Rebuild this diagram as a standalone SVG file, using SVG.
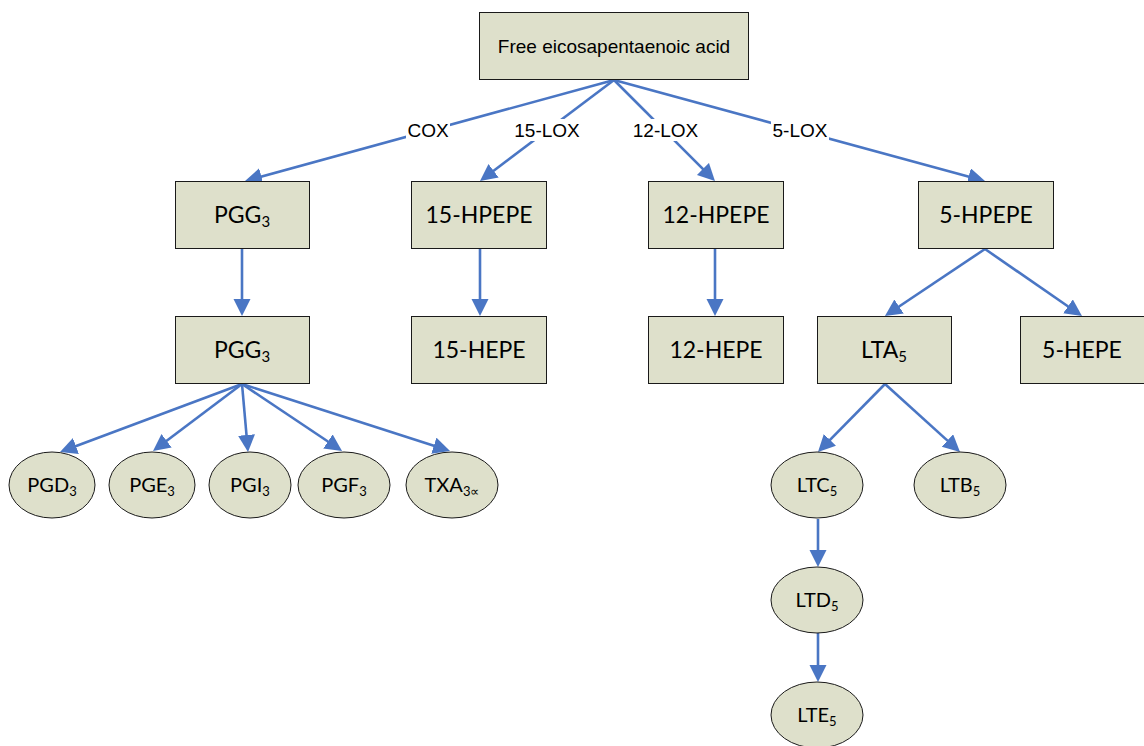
<svg xmlns="http://www.w3.org/2000/svg" width="1144" height="746" viewBox="0 0 1144 746">
<style>
.box{fill:#dee0cb;stroke:#1a1a1a;stroke-width:1}
.t{font-family:Lato,"Noto Sans",sans-serif;font-size:23px;fill:#000;text-anchor:middle}
.te{font-family:Lato,"Noto Sans",sans-serif;font-size:20px;fill:#000;text-anchor:middle}
.a{font-family:"Liberation Sans",Arial,sans-serif;font-size:19px;fill:#000;text-anchor:middle}
.c{stroke:#4a76c4;stroke-width:2.6;fill:none;marker-end:url(#ah)}
.sub{font-size:65%}
</style>
<defs>
<marker id="ah" markerUnits="userSpaceOnUse" markerWidth="18" markerHeight="18" refX="9" refY="8.5" orient="auto">
<path d="M0,0 L17,8.5 L0,17 z" fill="#4a76c4"/>
</marker>
</defs>
<g id="connectors">
<line class="c" x1="614" y1="80" x2="252.7" y2="178.9"/>
<line class="c" x1="614" y1="80" x2="486.4" y2="176.2"/>
<line class="c" x1="614" y1="80" x2="709.3" y2="175.3"/>
<line class="c" x1="614" y1="80" x2="977.3" y2="178.9"/>
<line class="c" x1="242" y1="249" x2="242" y2="308"/>
<line class="c" x1="480" y1="249" x2="480" y2="308"/>
<line class="c" x1="715" y1="249" x2="715" y2="308"/>
<line class="c" x1="985" y1="249" x2="891.6" y2="311.5"/>
<line class="c" x1="985" y1="249" x2="1075.4" y2="311.5"/>
<line class="c" x1="242" y1="384" x2="67.5" y2="449.2"/>
<line class="c" x1="242" y1="384" x2="159.4" y2="446.2"/>
<line class="c" x1="242" y1="384" x2="247.3" y2="444"/>
<line class="c" x1="242" y1="384" x2="335.4" y2="446.5"/>
<line class="c" x1="242" y1="384" x2="442.4" y2="448.5"/>
<line class="c" x1="885" y1="384" x2="823.6" y2="446.3"/>
<line class="c" x1="885" y1="384" x2="954.1" y2="446.6"/>
<line class="c" x1="818" y1="519" x2="818" y2="559"/>
<line class="c" x1="818" y1="633" x2="818" y2="674"/>
<g id="edge-labels">
<rect x="406" y="119" width="44" height="22" fill="#fff"/>
<text class="a" x="428" y="137">COX</text>
<rect x="513" y="119" width="68" height="22" fill="#fff"/>
<text class="a" x="547" y="137">15-LOX</text>
<rect x="632" y="119" width="67" height="22" fill="#fff"/>
<text class="a" x="665.5" y="137">12-LOX</text>
<rect x="771" y="119" width="58" height="22" fill="#fff"/>
<text class="a" x="800" y="137">5-LOX</text>
</g>
</g>
<g id="n-epa"><rect class="box" x="479.5" y="12.5" width="269" height="67"/><text class="a" x="614" y="53">Free eicosapentaenoic acid</text></g>
<g id="n-pgg3a"><rect class="box" x="175.5" y="181.5" width="134" height="67"/><text class="t" x="242" y="223">PGG<tspan class="sub" dy="4">3</tspan></text></g>
<g id="n-15hpepe"><rect class="box" x="411.5" y="181.5" width="135" height="67"/><text class="t" x="479" y="223">15-HPEPE</text></g>
<g id="n-12hpepe"><rect class="box" x="648.5" y="181.5" width="135" height="67"/><text class="t" x="716" y="223">12-HPEPE</text></g>
<g id="n-5hpepe"><rect class="box" x="918.5" y="181.5" width="135" height="67"/><text class="t" x="986" y="223">5-HPEPE</text></g>
<g id="n-pgg3b"><rect class="box" x="175.5" y="316.5" width="134" height="67"/><text class="t" x="242" y="358">PGG<tspan class="sub" dy="4">3</tspan></text></g>
<g id="n-15hepe"><rect class="box" x="411.5" y="316.5" width="135" height="67"/><text class="t" x="479" y="358">15-HEPE</text></g>
<g id="n-12hepe"><rect class="box" x="648.5" y="316.5" width="135" height="67"/><text class="t" x="716" y="358">12-HEPE</text></g>
<g id="n-lta5"><rect class="box" x="817.5" y="316.5" width="134" height="67"/><text class="t" x="884" y="358">LTA<tspan class="sub" dy="4">5</tspan></text></g>
<g id="n-5hepe"><rect class="box" x="1020.5" y="316.5" width="135" height="67"/><text class="t" x="1082" y="358">5-HEPE</text></g>
<g id="n-pgd3"><ellipse class="box" cx="52" cy="485" rx="43" ry="33"/><text class="te" x="52" y="492">PGD<tspan class="sub" dy="4">3</tspan></text></g>
<g id="n-pge3"><ellipse class="box" cx="152" cy="485" rx="43" ry="33"/><text class="te" x="152" y="492">PGE<tspan class="sub" dy="4">3</tspan></text></g>
<g id="n-pgi3"><ellipse class="box" cx="250" cy="485" rx="41" ry="33"/><text class="te" x="250" y="492">PGI<tspan class="sub" dy="4">3</tspan></text></g>
<g id="n-pgf3"><ellipse class="box" cx="344" cy="485" rx="46" ry="33"/><text class="te" x="344" y="492">PGF<tspan class="sub" dy="4">3</tspan></text></g>
<g id="n-txa3"><ellipse class="box" cx="452" cy="485" rx="46" ry="33"/><text class="te" x="452" y="492">TXA<tspan class="sub" dy="4">3∝</tspan></text></g>
<g id="n-ltc5"><ellipse class="box" cx="817" cy="485" rx="46" ry="33"/><text class="te" x="817" y="492">LTC<tspan class="sub" dy="4">5</tspan></text></g>
<g id="n-ltb5"><ellipse class="box" cx="960" cy="485" rx="46" ry="33"/><text class="te" x="960" y="492">LTB<tspan class="sub" dy="4">5</tspan></text></g>
<g id="n-ltd5"><ellipse class="box" cx="817" cy="600" rx="46" ry="33"/><text class="te" x="817" y="607">LTD<tspan class="sub" dy="4">5</tspan></text></g>
<g id="n-lte5"><ellipse class="box" cx="817" cy="715" rx="46" ry="33"/><text class="te" x="817" y="722">LTE<tspan class="sub" dy="4">5</tspan></text></g>
</svg>
